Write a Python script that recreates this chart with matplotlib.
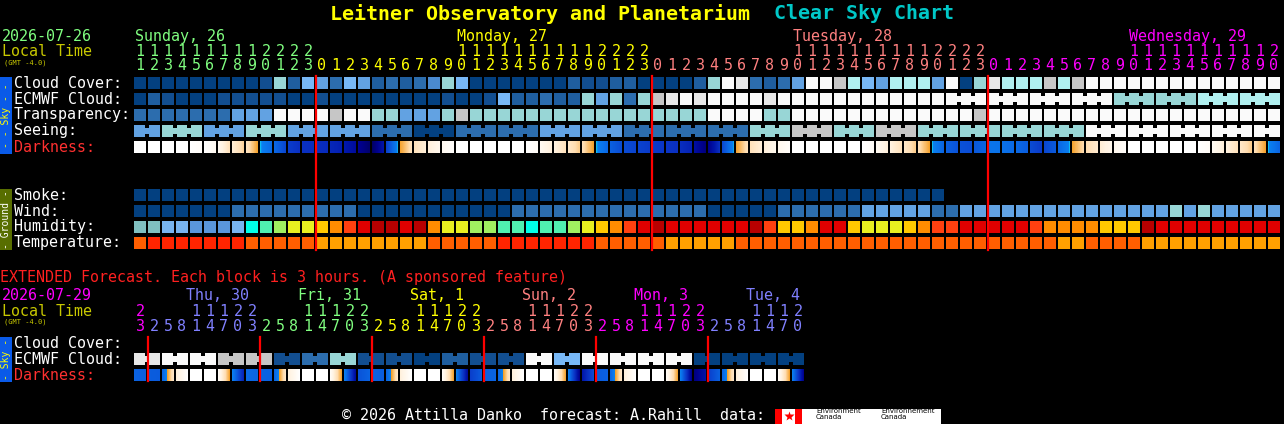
"""
Clear Sky Chart - Leitner Observatory and Planetarium.
Blocks are drawn on a pixel-sized axes (0..1284 x 0..424, y down).
"""
import numpy as np
import matplotlib
matplotlib.use("Agg")
import matplotlib.pyplot as plt
from matplotlib.colors import LinearSegmentedColormap

# ─────────────────────────────────────────────────────────────────────────
# hour labels
MAIN_HOURS = list(range(11, 24)) + list(range(24)) + list(range(24)) + list(range(21))
MAIN_DAYS = ["Sunday, 26", "Monday, 27", "Tuesday, 28", "Wednesday, 29"]
MAIN_DAY_COLORS = ["#80FF80", "#FFFF00", "#FF8080", "#FF00FF"]

EXT_HOURS = [23] + [2, 5, 8, 11, 14, 17, 20, 23] * 5 + [2, 5, 8, 11, 14, 17, 20]
EXT_DAYS = ["", "Thu, 30", "Fri, 31", "Sat, 1", "Sun, 2", "Mon, 3", "Tue, 4"]
EXT_DAY_COLORS = ["#FF00FF", "#8080FF", "#80FF80", "#FFFF00", "#FF8080", "#FF00FF", "#8080FF"]

# cloud / transparency / seeing / smoke / wind share one palette (level index)
BLUES = ["#034080", "#124E90", "#1F5E9F", "#2C6DAE", "#4A8AD0", "#62A2E2",
         "#78B8F6", "#98D6D6", "#B0F0F0", "#C6C6C6", "#E8E8E8", "#FAFAFA"]
HUM_COLORS = ["#5A96DC", "#78B4F0", "#80C0C0", "#00FFE8", "#50F0B0", "#A0F060",
              "#E8F020", "#FFC800", "#FF8C00", "#FF4010", "#E00000", "#B80000"]
TEMP_COLORS = ["#FF2400", "#FF5E00", "#FFA000"]

CLOUD = [0, 0, 0, 0, 0, 0, 0, 0, 0, 1, 7, 2, 6, 5,
         3, 6, 5, 2, 3, 2, 3, 4, 7, 6, 0, 0, 0, 0, 0, 0, 0, 2, 1, 1, 2, 2, 0,
         0, 0, 0, 2, 7, 11, 10, 3, 2, 3, 5, 11, 11, 9, 8, 6, 5, 8, 8, 8, 5, 11, 0, 7,
         10, 8, 8, 8, 9, 8, 9, 11, 11, 11, 11, 11, 11, 11, 11, 11, 11, 11, 11, 11, 11]
ECMWF = [0, 2, 1, 0, 0, 0, 1, 1, 1, 1, 1, 0, 0, 1,
         0, 0, 0, 0, 0, 0, 0, 0, 1, 0, 0, 1, 6, 2, 2, 3, 2, 2, 7, 5, 7, 3, 7,
         9, 10, 11, 10, 11, 11, 11, 11, 10, 11, 11, 11, 11, 11, 11, 11, 11, 11, 11, 11, 11, 11, 11, 11,
         11, 11, 11, 11, 11, 11, 11, 11, 11, 7, 7, 7, 7, 7, 7, 8, 8, 8, 8, 8, 8]
ECMWF_3H_FROM = 58          # from this column ECMWF comes in 3-hour groups
TRANSP = [3, 3, 3, 3, 3, 3, 3, 5, 5, 5, 11, 11, 11, 11,
          9, 11, 11, 7, 7, 5, 5, 5, 7, 9, 7, 7, 7, 7, 7, 7, 7, 7, 7, 7, 7, 7, 7,
          7, 7, 7, 7, 11, 11, 11, 11, 7, 7, 11, 11, 11, 11, 11, 11, 11, 11, 11, 11, 11, 11, 11, 9,
          11, 11, 11, 11, 11, 11, 11, 11, 11, 11, 11, 11, 11, 11, 11, 11, 11, 11, 11, 11, 11]
# seeing: one value per 3-hour group (first and last group cover 2 columns)
SEEING = [5, 7, 5, 7, 5, 5, 3, 0, 3, 3, 5, 5, 3, 3, 3, 7, 9, 7, 9, 7, 7, 7, 7,
          11, 11, 11, 11, 11]
# darkness: (start, end) of each hour block; 0 day .. 3 twilight .. 9 darkest
DARK = [(0, 0), (0, 0), (0, 0), (0, 0), (0, 0.2), (0, 0.5), (0.5, 1.8), (1.2, 2.2),
        (1.6, 3.0), (3.06, 4.0), (4.0, 5.2), (5.5, 6.0), (6.0, 6.1),
        (6.1, 6.2), (6.3, 6.6), (6.8, 7.4), (7.8, 8.6), (8.8, 7.0), (5.5, 3.1),
        (3.0, 1.8), (1.8, 1.2), (1.2, 0.6), (0.5, 0.1), (0, 0), (0, 0), (0, 0),
        (0, 0), (0, 0), (0, 0.3), (0.4, 1.2), (1.0, 1.8), (1.5, 2.3), (1.8, 3.0),
        (3.06, 4.1), (4.3, 5.0), (5.0, 5.3), (5.3, 5.6),
        (5.6, 5.8), (5.8, 6.0), (6.1, 6.5), (7.2, 8.3), (8.0, 6.0), (5.2, 3.1),
        (3.0, 1.8), (1.8, 1.2), (1.2, 0.6), (0.6, 0.2), (0, 0), (0, 0), (0, 0),
        (0, 0), (0, 0), (0, 0.3), (0.4, 1.2), (1.0, 1.8), (1.5, 2.3), (1.8, 3.0),
        (3.06, 4.2), (4.3, 4.8), (4.8, 5.0), (4.6, 4.2),
        (3.6, 3.7), (3.7, 4.0), (4.0, 4.4), (5.0, 5.6), (5.2, 4.5), (4.2, 3.1),
        (3.0, 2.0), (2.0, 1.4), (1.3, 0.7), (0.6, 0.2), (0, 0), (0, 0), (0, 0),
        (0, 0), (0, 0), (0, 0.3), (0.4, 1.2), (1.0, 1.8), (1.5, 2.3), (1.8, 3.0),
        (3.06, 4.2)]

SMOKE = [0, 0, 0, 0, 0, 0, 0, 0, 0, 0, 0, 0, 0, 0, 0, 0, 0, 0, 0, 0, 0, 0, 0, 0,
         0, 0, 0, 0, 0, 0, 0, 0, 0, 0, 0, 0, 0, 0, 0, 0, 0, 0, 0, 0, 0, 0, 0, 0,
         0, 0, 0, 0, 0, 0, 0, 0, 0, 0]
WIND = [0, 0, 0, 0, 0, 0, 0, 3, 3, 3, 3, 3, 3, 3, 3, 3, 0, 0, 0, 0, 0, 0, 0, 0,
        0, 0, 0, 3, 3, 3, 3, 3, 3, 3, 3, 3, 3, 3, 3, 3, 3, 0, 0, 0, 0, 0, 3, 3,
        3, 3, 3, 3, 5, 5, 5, 5, 5, 3, 3, 5, 5, 5, 5, 5, 5, 5, 5, 5, 5, 5, 5, 5,
        5, 5, 7, 5, 7, 5, 5, 5, 5, 5]
HUMIDITY = [2, 2, 1, 1, 0, 0, 0, 1, 3, 4, 5, 6, 6, 7,
            8, 9, 10, 11, 11, 10, 11, 8, 6, 6, 5, 5, 4, 4, 3, 4, 4, 5, 6, 7, 8, 9, 10,
            11, 10, 10, 10, 10, 10, 10, 11, 9, 7, 7, 8, 10, 10, 7, 6, 6, 6, 7, 8, 9, 9, 10, 10,
            10, 10, 10, 9, 8, 8, 8, 8, 7, 7, 7, 11, 10, 10, 10, 10, 10, 10, 10, 10, 10]
TEMPERATURE = [1, 0, 0, 0, 0, 0, 0, 0, 1, 1, 1, 1, 1, 2,
               2, 2, 2, 2, 2, 2, 2, 1, 1, 1, 1, 1, 0, 0, 0, 0, 0, 0, 0, 1, 1, 1, 1,
               1, 2, 2, 2, 2, 2, 1, 1, 1, 1, 1, 1, 1, 1, 1, 1, 1, 1, 1, 1, 1, 1, 1, 1,
               1, 1, 1, 1, 1, 2, 2, 1, 1, 1, 1, 2, 2, 2, 2, 2, 2, 2, 2, 2, 2]

# extended forecast: 3-hour blocks, ECMWF in 6-hour pairs
EXT_ECMWF = [10, 11, 11, 9, 9, 1, 3, 7, 1, 1, 0, 2, 1, 1, 11, 6, 11, 11, 11, 11,
             0, 0, 0, 0]
EXT_DARK = [(4.2, 4.4),
            (4.4, 4.5), (4.3, 1.5), (1.2, 0), (0, 0), (0, 0), (0.2, 3.0), (3.06, 6.5), (4.0, 4.2),
            (4.2, 4.3), (4.3, 1.5), (1.2, 0), (0, 0), (0, 0), (0.2, 3.0), (3.06, 7.5), (4.8, 4.2),
            (4.2, 4.4), (4.3, 1.5), (1.2, 0), (0, 0), (0, 0), (0.2, 3.0), (3.06, 7.5), (5.5, 4.5),
            (4.3, 4.2), (4.3, 1.5), (1.2, 0), (0, 0), (0, 0), (0.2, 3.0), (3.06, 8.0), (7.0, 5.0),
            (4.5, 4.3), (4.3, 1.5), (1.2, 0), (0, 0), (0, 0), (0.2, 3.0), (3.06, 8.0), (8.3, 7.0),
            (5.5, 4.3), (4.3, 1.5), (1.2, 0), (0, 0), (0, 0), (0.2, 3.0), (3.06, 8.0)]

# ─────────────────────────────────────────────────────────────────────────
# layout (pixels)
X0, PITCH, BLOCK = 134, 14, 12
SKY_TOPS = [77, 93, 109, 125, 141]
GROUND_TOPS = [189, 205, 221, 237]
EXT_TOPS = [337, 353, 369]
MONO = "DejaVu Sans Mono"
FS = 10.8
DY = 1.5                    # va="center" sits a bit high for digits/caps

DARK_CMAP = LinearSegmentedColormap.from_list("dark", [
    (0.0 / 9, "#FFFFFF"), (1.0 / 9, "#FFF3E2"), (2.0 / 9, "#FFDDB0"),
    (3.0 / 9, "#F5A028"), (3.05 / 9, "#10E0F0"), (3.2 / 9, "#0A80F0"),
    (4.0 / 9, "#0A6AE6"), (5.0 / 9, "#0A4CD4"), (6.0 / 9, "#0A30C2"),
    (7.0 / 9, "#0014A8"), (8.0 / 9, "#00008C"), (9.0 / 9, "#000058")])

fig = plt.figure(figsize=(12.84, 4.24), dpi=100, facecolor="black")
ax = fig.add_axes([0, 0, 1, 1])
ax.set_facecolor("black")


def txt(x, y, s, color="white", size=FS, **kw):
    kw.setdefault("va", "center")
    kw.setdefault("ha", "left")
    ax.text(x, y + DY, s, color=color, fontsize=size, family=MONO, **kw)


def block_row(levels, top, palette, cols=None):
    cols = range(len(levels)) if cols is None else cols
    xs = [X0 + c * PITCH for c in cols]
    ax.bar(xs, BLOCK, width=BLOCK, bottom=top, align="edge",
           color=[palette[v] for v in levels], linewidth=0)


def joined_row(values, spans, top, palette, first=0):
    """Groups of adjacent blocks joined by a bridge with small notches."""
    c = first
    for v, n in zip(values, spans):
        x = X0 + c * PITCH
        ax.bar(x, BLOCK, width=n * PITCH - 2, bottom=top, align="edge",
               color=palette[v], linewidth=0)
        for k in range(1, n):
            gx = X0 + (c + k) * PITCH - 1
            for ny in (top, top + BLOCK - 3):
                ax.bar(gx - 2, 3, width=4, bottom=ny, align="edge",
                       color="black", linewidth=0)
        c += n


def dark_row(pairs, top):
    for c, (a, b) in enumerate(pairs):
        x = X0 + c * PITCH
        grad = np.linspace(a, b, 48).reshape(1, -1)
        ax.imshow(grad, extent=(x, x + BLOCK, top + BLOCK, top), cmap=DARK_CMAP,
                  vmin=0, vmax=9, aspect="auto", interpolation="nearest", zorder=2)


def side_bar(y0, y1, color, label, tcolor):
    ax.bar(0, y1 - y0, width=12, bottom=y0, align="edge", color=color, linewidth=0)
    ax.text(6, (y0 + y1) / 2, label, rotation=90, color=tcolor, fontsize=7,
            family=MONO, ha="center", va="center")


# ── title ──
ax.text(330, 12 + DY, "Leitner Observatory and Planetarium", color="#FFFF00",
        fontsize=14.4, family=MONO, fontweight="bold", va="center")
ax.text(774, 12 + DY, "Clear Sky Chart", color="#00C8C8", fontsize=14.4,
        family=MONO, fontweight="bold", va="center")

# ── main header ──
txt(2, 35, "2026-07-26", MAIN_DAY_COLORS[0])
txt(2, 50, "Local Time", "#C8C800")
txt(4, 61, "(GMT -4.0)", "#C8C800", size=5)

day = 0
labelled = set()
for c, h in enumerate(MAIN_HOURS):
    if c > 0 and h == 0:
        day += 1
    col = MAIN_DAY_COLORS[day]
    xc = X0 + c * PITCH + BLOCK / 2
    if h >= 10:
        txt(xc, 50, str(h // 10), col, ha="center")
        if day not in labelled:
            txt(X0 + c * PITCH + 1, 35, MAIN_DAYS[day], col)
            labelled.add(day)
    txt(xc, 64, str(h % 10), col, ha="center")

# ── sky rows ──
side_bar(77, 154, "#0A5AE8", "- - Sky - -", "#FFFF00")
for y, s in zip(SKY_TOPS, ["Cloud Cover:", "ECMWF Cloud:", "Transparency:", "Seeing:"]):
    txt(14, y + 4.5, s)
txt(14, SKY_TOPS[4] + 4.5, "Darkness:", "#FF3030")

block_row(CLOUD, SKY_TOPS[0], BLUES)
block_row(ECMWF[:ECMWF_3H_FROM], SKY_TOPS[1], BLUES)
grp = ECMWF[ECMWF_3H_FROM::3]
joined_row(grp, [3] * len(grp), SKY_TOPS[1], BLUES, first=ECMWF_3H_FROM)
block_row(TRANSP, SKY_TOPS[2], BLUES)
joined_row(SEEING, [2] + [3] * (len(SEEING) - 2) + [2], SKY_TOPS[3], BLUES)
dark_row(DARK, SKY_TOPS[4])

# ── ground rows ──
side_bar(189, 250, "#586E00", "- Ground -", "white")
for y, s in zip(GROUND_TOPS, ["Smoke:", "Wind:", "Humidity:", "Temperature:"]):
    txt(14, y + 4.5, s)
block_row(SMOKE, GROUND_TOPS[0], BLUES)
block_row(WIND, GROUND_TOPS[1], BLUES)
block_row(HUMIDITY, GROUND_TOPS[2], HUM_COLORS)
block_row(TEMPERATURE, GROUND_TOPS[3], TEMP_COLORS)

# midnight lines
for c, h in enumerate(MAIN_HOURS):
    if h == 0:
        ax.plot([X0 + c * PITCH] * 2, [76, 250], color="#FF0000", lw=1.6, zorder=5)

# ── extended forecast ──
txt(0, 276, "EXTENDED Forecast. Each block is 3 hours. (A sponsored feature)", "#FF2020")
txt(2, 294, "2026-07-29", EXT_DAY_COLORS[0])
txt(2, 310, "Local Time", "#C8C800")
txt(4, 320, "(GMT -4.0)", "#C8C800", size=5)
day = 0
for c, h in enumerate(EXT_HOURS):
    if c > 0 and h == 2:
        day += 1
    col = EXT_DAY_COLORS[day]
    xc = X0 + c * PITCH + BLOCK / 2
    if h >= 10:
        txt(xc, 310, str(h // 10), col, ha="center")
    if h == 11:
        txt(X0 + c * PITCH - 4, 294, EXT_DAYS[day], col)
    txt(xc, 325, str(h % 10), col, ha="center")

side_bar(337, 382, "#0A5AE8", "- Sky -", "#FFFF00")
for y, s in zip(EXT_TOPS[:2], ["Cloud Cover:", "ECMWF Cloud:"]):
    txt(14, y + 4.5, s)
txt(14, EXT_TOPS[2] + 4.5, "Darkness:", "#FF3030")
joined_row(EXT_ECMWF, [2] * len(EXT_ECMWF), EXT_TOPS[1], BLUES)
dark_row(EXT_DARK, EXT_TOPS[2])
for c, h in enumerate(EXT_HOURS):
    if h == 2:
        ax.plot([X0 + c * PITCH] * 2, [337, 381], color="#FF0000", lw=1.6, zorder=5)

# ── footer ──
txt(342, 414, "\u00a9 2026 Attilla Danko  forecast: A.Rahill  data:")
ax.bar(775, 15, width=27, bottom=409, align="edge", color="#FF0000", linewidth=0)
ax.bar(782, 15, width=13, bottom=409, align="edge", color="white", linewidth=0)
ax.plot(788.5, 416, marker="*", ms=7, color="#FF0000", mec="none")
ax.bar(802, 15, width=139, bottom=409, align="edge", color="white", linewidth=0)
ax.text(816, 414, "Environment\nCanada", color="black", fontsize=5, family="DejaVu Sans",
        va="center", linespacing=0.9)
ax.text(881, 414, "Environnement\nCanada", color="black", fontsize=5, family="DejaVu Sans",
        va="center", linespacing=0.9)

ax.set_xlim(0, 1284)
ax.set_ylim(424, 0)
ax.axis("off")
fig.savefig("out.png", dpi=100, facecolor="black")
plt.close(fig)
